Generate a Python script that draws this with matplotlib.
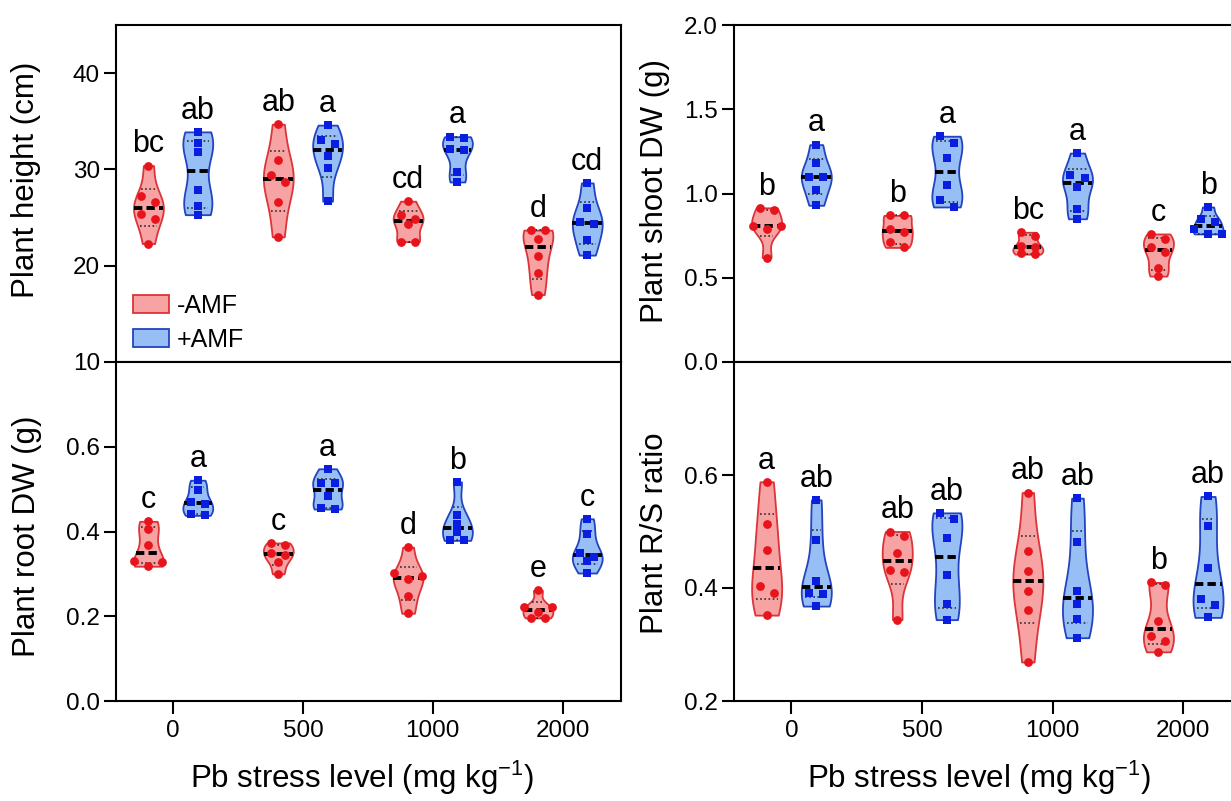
import numpy as np
import matplotlib
matplotlib.use('Agg')
import matplotlib.pyplot as plt
from matplotlib.patches import Patch

plt.rcParams['font.family'] = ['Liberation Sans', 'DejaVu Sans']
plt.rcParams['lines.scale_dashes'] = False
plt.rcParams['axes.linewidth'] = 1.5

# ---------------- data ----------------
levels = ['0', '500', '1000', '2000']
treatments = ['-AMF', '+AMF']

height_noamf = [[30.4, 27.2, 26.6, 25.4, 24.8, 22.3],
                [34.7, 31.0, 29.4, 28.7, 26.6, 23.0],
                [26.7, 25.3, 24.9, 24.3, 22.5, 22.5],
                [23.7, 23.7, 22.8, 21.0, 19.2, 17.0]]
height_amf = [[33.9, 32.7, 31.8, 27.9, 26.2, 25.3],
              [34.6, 33.1, 32.6, 31.4, 30.1, 26.7],
              [33.4, 33.3, 32.1, 32.0, 29.7, 28.7],
              [28.6, 26.0, 24.5, 24.3, 22.7, 21.1]]

shoot_noamf = [[0.915, 0.90, 0.81, 0.81, 0.79, 0.62],
               [0.87, 0.87, 0.79, 0.77, 0.71, 0.68],
               [0.77, 0.745, 0.69, 0.68, 0.645, 0.64],
               [0.76, 0.73, 0.68, 0.65, 0.56, 0.51]]
shoot_amf = [[1.29, 1.18, 1.10, 1.10, 1.02, 0.93],
             [1.34, 1.30, 1.21, 1.05, 0.96, 0.92],
             [1.24, 1.11, 1.09, 1.04, 0.91, 0.85],
             [0.92, 0.85, 0.83, 0.79, 0.76, 0.76]]

root_noamf = [[0.424, 0.406, 0.369, 0.330, 0.327, 0.318],
              [0.373, 0.367, 0.349, 0.345, 0.327, 0.300],
              [0.363, 0.302, 0.294, 0.288, 0.248, 0.207],
              [0.261, 0.223, 0.222, 0.209, 0.196, 0.196]]
root_amf = [[0.521, 0.499, 0.469, 0.464, 0.442, 0.438],
            [0.548, 0.515, 0.515, 0.483, 0.456, 0.453],
            [0.517, 0.438, 0.418, 0.398, 0.379, 0.379],
            [0.430, 0.393, 0.349, 0.340, 0.330, 0.302]]

rs_noamf = [[0.588, 0.513, 0.467, 0.404, 0.391, 0.352],
            [0.500, 0.492, 0.462, 0.432, 0.429, 0.344],
            [0.569, 0.466, 0.430, 0.395, 0.361, 0.269],
            [0.410, 0.405, 0.341, 0.315, 0.306, 0.287]]
rs_amf = [[0.556, 0.485, 0.413, 0.391, 0.389, 0.368],
          [0.533, 0.522, 0.488, 0.423, 0.371, 0.344],
          [0.559, 0.482, 0.395, 0.371, 0.346, 0.312],
          [0.562, 0.509, 0.435, 0.380, 0.370, 0.348]]

height_letters_noamf = ['bc', 'ab', 'cd', 'd']
height_letters_amf = ['ab', 'a', 'a', 'cd']
shoot_letters_noamf = ['b', 'b', 'bc', 'c']
shoot_letters_amf = ['a', 'a', 'a', 'b']
root_letters_noamf = ['c', 'c', 'd', 'e']
root_letters_amf = ['a', 'a', 'b', 'c']
rs_letters_noamf = ['a', 'ab', 'ab', 'b']
rs_letters_amf = ['ab', 'ab', 'ab', 'ab']

height_ticks = [10, 20, 30, 40]
shoot_ticks = [0.0, 0.5, 1.0, 1.5, 2.0]
root_ticks = [0.0, 0.2, 0.4, 0.6]
rs_ticks = [0.2, 0.4, 0.6]

# ---------------- style ----------------
RED_FILL, RED_EDGE, RED_PT = '#F7A3A4', '#DC3438', '#E8141C'
BLUE_FILL, BLUE_EDGE, BLUE_PT = '#98BEF6', '#2344BF', '#0A1EE0'

W, H = 1231, 801
fig = plt.figure(figsize=(W / 100, H / 100), dpi=100)


def ax_px(x0, y0, x1, y1):
    return fig.add_axes([x0 / W, 1 - y1 / H, (x1 - x0) / W, (y1 - y0) / H])


OFFSET = 0.19
HALF_W = 0.115
DX = 0.054
XLIM = (-0.44, 3.45)


def kde(v, grid, f=0.55):
    bw = f * v.std(ddof=1)
    return np.exp(-0.5 * ((grid[:, None] - v[None, :]) / bw) ** 2).sum(1)


def swarm_offsets(v, thr):
    order = list(np.argsort(-v, kind='stable'))
    offs = np.zeros(len(v))
    clusters, cur = [], [order[0]]
    for i in order[1:]:
        if v[cur[0]] - v[i] < thr:
            cur.append(i)
        else:
            clusters.append(cur)
            cur = [i]
    clusters.append(cur)
    for cl in clusters:
        k = len(cl)
        if k == 1:
            continue
        if k == 2:
            slots = [-DX, DX]
        elif k == 3:
            slots = [-2 * DX, 2 * DX, 0]
        else:
            slots = list((np.arange(k) - (k - 1) / 2) * 2 * DX)
        for idx, s in zip(cl, slots):
            offs[idx] = s
    return offs


def violin(ax, vals, x, fill, edge, pt, marker, thr, letter):
    v = np.asarray(vals, dtype=float)
    grid = np.linspace(v.min(), v.max(), 300)
    d = kde(v, grid)
    w = d / d.max() * HALF_W
    ax.fill_betweenx(grid, x - w, x + w, facecolor=fill, edgecolor=edge,
                     lw=1.3, zorder=2)
    q1, med, q3 = np.percentile(v, [25, 50, 75], method='weibull')
    for q in (q1, q3):
        wq = 0.75 * np.interp(q, grid, w)
        ax.plot([x - wq, x + wq], [q, q], color='#222222', lw=1.1,
                ls=(0, (1.2, 1.8)), zorder=3)
    wm = np.interp(med, grid, w)
    ax.plot([x - wm, x + wm], [med, med], color='black', lw=2.8,
            ls=(0, (6, 3)), zorder=3, dash_capstyle='butt')
    offs = swarm_offsets(v, thr)
    ax.scatter(x + offs, v, s=40 if marker == 'o' else 36, marker=marker,
               color=pt, linewidths=0, zorder=4)
    ax.annotate(letter, (x, v.max()), xytext=(0, 9.5),
                textcoords='offset points', ha='center', va='baseline',
                fontsize=22, zorder=5)


def panel(ax, noamf, amf, let_n, let_a, ylim, yticks, fmt, ylabel,
          lab_xy, bottom):
    ax.set_xlim(*XLIM)
    ax.set_ylim(*ylim)
    px_per_unit = ax.get_window_extent().height / (ylim[1] - ylim[0])
    thr = 7.5 / px_per_unit
    for i in range(len(levels)):
        violin(ax, noamf[i], i - OFFSET, RED_FILL, RED_EDGE, RED_PT, 'o',
               thr, let_n[i])
        violin(ax, amf[i], i + OFFSET, BLUE_FILL, BLUE_EDGE, BLUE_PT, 's',
               thr, let_a[i])
    ax.set_yticks(yticks)
    ax.set_yticklabels([fmt.format(t) for t in yticks])
    ax.tick_params(axis='y', direction='out', length=9, width=1.5,
                   labelsize=17.5, pad=2.5)
    if bottom:
        ax.set_xticks(range(len(levels)))
        ax.set_xticklabels(levels)
        ax.tick_params(axis='x', direction='out', length=9, width=1.5,
                       labelsize=17.5, pad=5)
    else:
        ax.tick_params(axis='x', bottom=False, labelbottom=False)
    ax.text(lab_xy[0], lab_xy[1], ylabel, rotation=90, ha='center',
            va='center', transform=ax.transAxes, fontsize=22.5)


ax_tl = ax_px(116, 25, 621, 362)
ax_bl = ax_px(116, 362, 621, 701)
ax_tr = ax_px(734, 25, 1242, 362)
ax_br = ax_px(734, 362, 1242, 701)

panel(ax_tl, height_noamf, height_amf, height_letters_noamf,
      height_letters_amf, (10, 45), height_ticks, '{:.0f}',
      'Plant height (cm)', (-0.178, 0.54), False)
panel(ax_bl, root_noamf, root_amf, root_letters_noamf, root_letters_amf,
      (0.0, 0.8), root_ticks, '{:.1f}', 'Plant root DW (g)',
      (-0.177, 0.487), True)
panel(ax_tr, shoot_noamf, shoot_amf, shoot_letters_noamf,
      shoot_letters_amf, (0.0, 2.0), shoot_ticks, '{:.1f}',
      'Plant shoot DW (g)', (-0.156, 0.506), False)
panel(ax_br, rs_noamf, rs_amf, rs_letters_noamf, rs_letters_amf,
      (0.2, 0.8), rs_ticks, '{:.1f}', 'Plant R/S ratio',
      (-0.156, 0.496), True)

handles = [Patch(facecolor=RED_FILL, edgecolor=RED_EDGE, lw=1.3,
                 label=treatments[0]),
           Patch(facecolor=BLUE_FILL, edgecolor=BLUE_EDGE, lw=1.3,
                 label=treatments[1])]
ax_tl.legend(handles=handles, loc='lower left', bbox_to_anchor=(0.033, 0.03),
             frameon=False, fontsize=18, handlelength=1.45, handleheight=0.7,
             handletextpad=0.3, labelspacing=0.4, borderpad=0,
             borderaxespad=0)

xlab = r'Pb stress level (mg kg$^{\mathregular{-1}}$)'
fig.text(362 / W, 1 - 788 / H, xlab, ha='center', va='baseline', fontsize=22.5)
fig.text(979 / W, 1 - 788 / H, xlab, ha='center', va='baseline', fontsize=22.5)

fig.savefig('out.png', dpi=100)
